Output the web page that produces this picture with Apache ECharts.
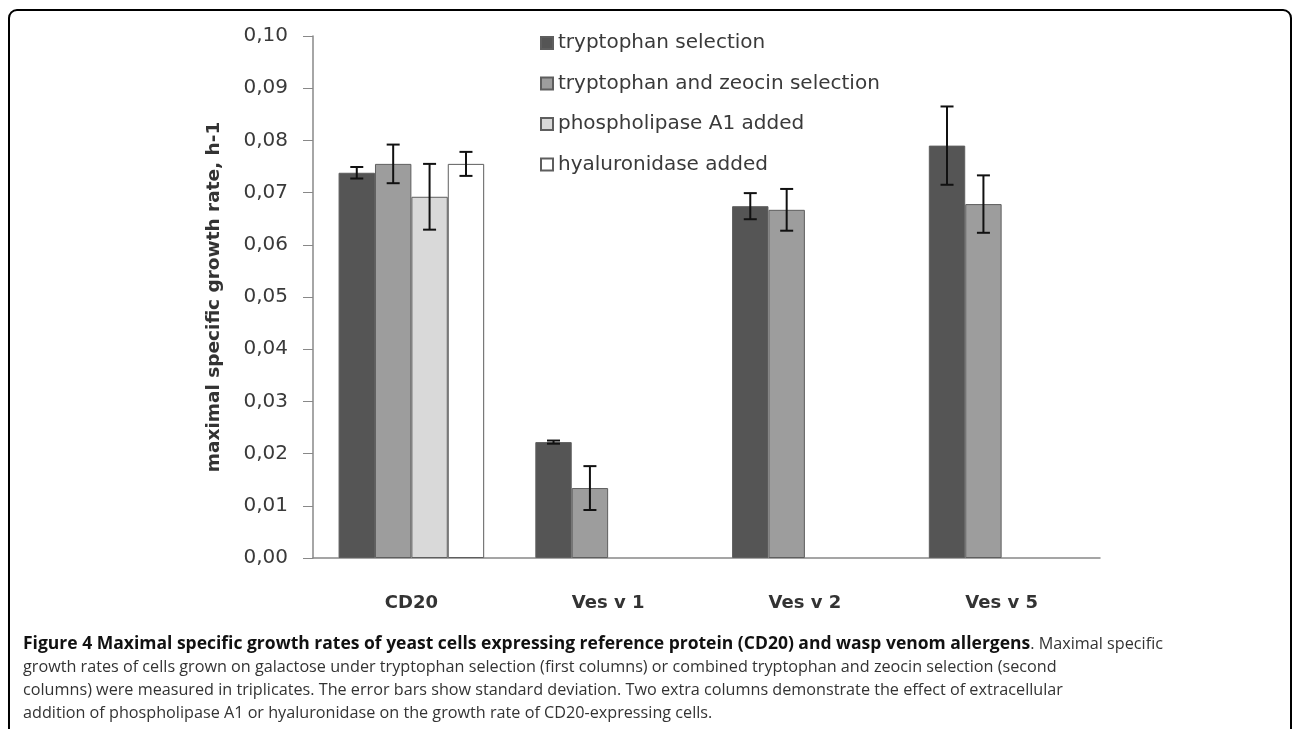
<!DOCTYPE html>
<html>
<head>
<meta charset="utf-8">
<script src="https://cdn.jsdelivr.net/npm/echarts@6/dist/echarts.min.js"></script>
<style>
html,body{margin:0;padding:0;background:#fff;}
#chart{width:1293px;height:729px;}
</style>
</head>
<body>
<div id="chart"></div>
<script>
var categories = ['CD20', 'Ves v 1', 'Ves v 2', 'Ves v 5'];
var seriesNames = ['tryptophan selection', 'tryptophan and zeocin selection', 'phospholipase A1 added', 'hyaluronidase added'];
var tryptophan = [0.0738, 0.0222, 0.0674, 0.0790];
var tryptophanErr = [0.0011, 0.0003, 0.0025, 0.0075];
var zeocin = [0.0755, 0.0134, 0.0667, 0.0678];
var zeocinErr = [0.0037, 0.0042, 0.0040, 0.0055];
var phospholipase = [0.0692, null, null, null];
var phospholipaseErr = [0.0063, null, null, null];
var hyaluronidase = [0.0755, null, null, null];
var hyaluronidaseErr = [0.0023, null, null, null];
var yTicks = ['0,00','0,01','0,02','0,03','0,04','0,05','0,06','0,07','0,08','0,09','0,10'];
var yAxisTitle = 'maximal specific growth rate, h-1';
var captionBold = 'Figure 4 Maximal specific growth rates of yeast cells expressing reference protein (CD20) and wasp venom allergens';
var captionLines = [
  '. Maximal specific',
  'growth rates of cells grown on galactose under tryptophan selection (first columns) or combined tryptophan and zeocin selection (second',
  'columns) were measured in triplicates. The error bars show standard deviation. Two extra columns demonstrate the effect of extracellular',
  'addition of phospholipase A1 or hyaluronidase on the growth rate of CD20-expressing cells.'
];

var GAP = 0.26;
var values = [tryptophan, zeocin, phospholipase, hyaluronidase];
var errors = [tryptophanErr, zeocinErr, phospholipaseErr, hyaluronidaseErr];
var fills = ['#555555', '#9d9d9d', '#d9d9d9', '#ffffff'];

var series = [];
values.forEach(function (vals, k) {
  series.push({
    name: seriesNames[k],
    type: 'bar',
    data: vals,
    barGap: '0%',
    barCategoryGap: (GAP * 100) + '%',
    itemStyle: { color: fills[k], borderColor: '#5e5e5e', borderWidth: 1 },
    emphasis: { disabled: true },
    animation: false
  });
});
values.forEach(function (vals, k) {
  var d = [];
  vals.forEach(function (v, i) { if (v != null) d.push([i, v, errors[k][i]]); });
  series.push({
    type: 'custom',
    z: 10,
    animation: false,
    encode: { x: 0, y: 1 },
    data: d,
    renderItem: function (params, api) {
      var ci = api.value(0), v = api.value(1), e = api.value(2);
      var c = api.coord([ci, v]);
      var band = api.size([1, 0])[0];
      var bw = band * (1 - GAP) / 4;
      var x = c[0] + (k - 1.5) * bw;
      var top = api.coord([ci, v + e])[1];
      var bot = api.coord([ci, v - e])[1];
      var cap = 6.5;
      var st = { stroke: '#111', lineWidth: 2 };
      return { type: 'group', children: [
        { type: 'line', shape: { x1: x, y1: top, x2: x, y2: bot }, style: st },
        { type: 'line', shape: { x1: x - cap, y1: top, x2: x + cap, y2: top }, style: st },
        { type: 'line', shape: { x1: x - cap, y1: bot, x2: x + cap, y2: bot }, style: st }
      ]};
    }
  });
});

var captionRich = '{b|' + captionBold + '}{n|' + captionLines[0] + '}\n{n|' + captionLines.slice(1).join('}\n{n|') + '}';

var chart = echarts.init(document.getElementById('chart'), null, { renderer: 'canvas' });
chart.setOption({
  backgroundColor: '#ffffff',
  animation: false,
  grid: { left: 313, right: 193, top: 36, bottom: 171 },
  legend: {
    data: seriesNames,
    orient: 'vertical',
    left: 535,
    top: 27,
    itemWidth: 12,
    itemHeight: 12,
    itemGap: 18.5,
    icon: 'rect',
    textStyle: { fontFamily: 'DejaVu Sans', fontSize: 20, color: '#3a3a3a', lineHeight: 22 }
  },
  xAxis: {
    type: 'category',
    data: categories,
    axisLine: { lineStyle: { color: '#888888', width: 1.5 } },
    axisTick: { length: 10, lineStyle: { color: '#888888' } },
    axisLabel: { margin: 36, fontFamily: 'DejaVu Sans', fontWeight: 'bold', fontSize: 18, color: '#333333' }
  },
  yAxis: {
    type: 'value',
    min: 0, max: 0.1, interval: 0.01,
    name: yAxisTitle,
    nameLocation: 'middle',
    nameGap: 89,
    nameTextStyle: { fontFamily: 'DejaVu Sans', fontWeight: 'bold', fontSize: 18.5, color: '#333333' },
    axisLine: { show: true, lineStyle: { color: '#888888', width: 1.5 } },
    axisTick: { show: true, length: 10, lineStyle: { color: '#888888' } },
    splitLine: { show: false },
    axisLabel: {
      margin: 25, fontFamily: 'DejaVu Sans', fontSize: 20, color: '#3a3a3a',
      formatter: function (v) { return yTicks[Math.round(v * 100)]; }
    }
  },
  graphic: [
    { type: 'rect', silent: true, shape: { x: 9, y: 10, width: 1282, height: 760, r: 8 },
      style: { fill: null, stroke: '#000', lineWidth: 2 } },
    { type: 'text', left: 23, top: 635, silent: true,
      style: {
        text: captionRich,
        rich: {
          b: { fontFamily: 'Open Sans', fontWeight: 'bold', fontSize: 17.5, fill: '#111', lineHeight: 23 },
          n: { fontFamily: 'Open Sans', fontSize: 16.2, fill: '#333', lineHeight: 23 }
        }
      } }
  ],
  series: series
});
</script>
</body>
</html>
